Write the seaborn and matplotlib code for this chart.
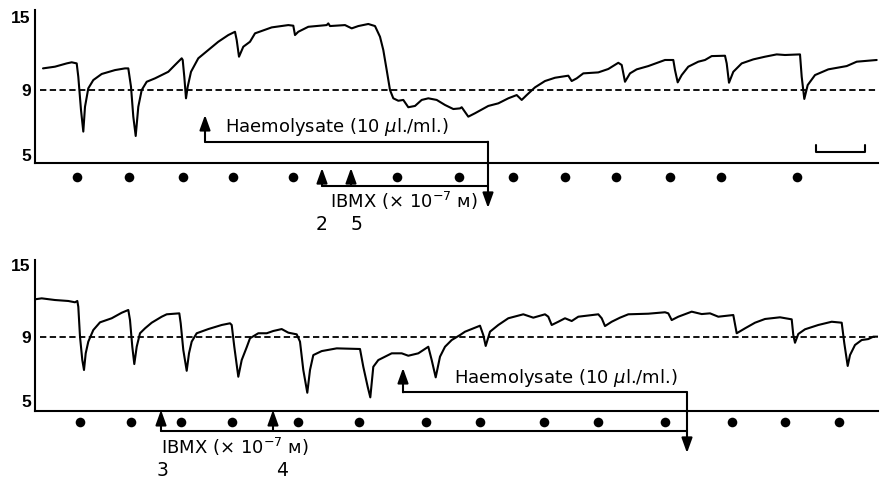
import numpy as np
import pandas as pd
import matplotlib
matplotlib.use("Agg")
import matplotlib.pyplot as plt
import matplotlib.transforms as mtransforms
import seaborn as sns

# ---------------- data (time in chart units, tension on y) ----------------
top_t = [43, 55, 66.7, 71.7, 76.7, 78.3, 81, 83.3, 85, 88.3, 93.3, 101.7, 115, 125, 128.3,
         131, 133.3, 135.7, 138.3, 141.7, 146.7, 155, 168.3, 175, 181.7, 182.7, 184.3, 186,
         187.7, 191, 198.3, 208.3, 218.3, 228.3, 235, 236.7, 239, 243.3, 250, 255, 271.7,
         288.3, 293.3, 295, 298.3, 308.3, 326.7, 328.3, 330, 345, 351.7, 358.3, 368.3, 375,
         380, 383.3, 386.7, 390, 393.3, 398.3, 403.3, 408.3, 415, 421.7, 428.3, 436.7, 445,
         453.3, 460, 461.7, 468.3, 475, 488.3, 498.3, 508.3, 516.7, 521.7, 526.7, 535, 545,
         555, 568.3, 571.7, 576.7, 583.3, 598.3, 608.3, 618.3, 621.7, 625, 630, 636.7, 648.3,
         665, 673.3, 675, 677.7, 681.7, 688.3, 698.3, 705, 711.7, 725, 726.7, 729, 733.3,
         741.7, 753.3, 765, 776.7, 785, 800, 801.7, 804.3, 807.7, 815, 828.3, 846.7, 856.7,
         876.7]
top_v = [10.78, 10.92, 11.19, 11.28, 11.19, 10.09, 7.77, 6.44, 7.97, 9.14, 9.82, 10.32, 10.64,
         10.78, 10.78, 9.27, 7.36, 6.17, 7.97, 9.0, 9.68, 9.96, 10.50, 11.06, 11.61, 11.47,
         10.09, 8.49, 9.27, 10.50, 11.61, 12.29, 12.97, 13.52, 13.79, 13.11, 11.74, 12.56,
         12.97, 13.66, 14.15, 14.34, 14.29, 13.52, 13.79, 14.20, 14.34, 14.48, 14.26, 14.34,
         14.07, 14.26, 14.43, 14.26, 13.38, 12.29, 10.64, 9.0, 8.49, 8.34, 8.39, 7.94, 8.02,
         8.39, 8.49, 8.39, 8.08, 7.83, 7.87, 7.94, 7.36, 7.57, 8.02, 8.18, 8.49, 8.69, 8.39,
         8.69, 9.22, 9.74, 10.01, 10.18, 9.74, 9.96, 10.37, 10.45, 10.73, 11.24, 11.06, 9.68,
         10.37, 10.70, 10.97, 11.47, 11.47, 10.64, 9.63, 10.23, 10.92, 11.33, 11.47, 11.79,
         11.82, 11.19, 9.60, 10.50, 11.19, 11.52, 11.74, 11.93, 11.88, 11.93, 10.09, 8.45,
         9.41, 10.23, 10.70, 10.97, 11.33, 11.47]

bot_t = [35, 41.7, 55, 68.3, 75, 77.3, 78.3, 80, 82.3, 84, 85.7, 88.3, 93.3, 100, 111.7, 121.7,
         128.3, 130, 132.3, 134.3, 136.7, 140, 145, 151.7, 161.7, 166.7, 179.3, 180.7, 183.3,
         186.7, 189, 191.7, 196.7, 208.3, 221.7, 230, 231.7, 234.3, 238.3, 241.7, 246.7, 250,
         258.3, 266.7, 273.3, 281.7, 288.3, 296.7, 300, 303.3, 307.3, 310, 313.3, 321.7, 336.7,
         360, 363.3, 367.7, 370.3, 373.3, 378.3, 391.7, 401.7, 408.3, 418.3, 428.3, 431.7,
         435.7, 440, 445, 451.7, 460, 465, 480, 483.3, 485.7, 490, 498.3, 508.3, 523.3, 533.3,
         545, 548.3, 551.7, 558.3, 565, 571.7, 578.3, 598.3, 601.7, 605, 611.7, 620, 628.3,
         648.3, 665, 668.3, 671.7, 678.3, 691.7, 701.7, 710, 718.3, 733.3, 736.7, 745, 755,
         765, 780, 791.7, 793.3, 795, 798.3, 805, 818.3, 831.7, 841.7, 844.3, 847.7, 850, 855,
         861.7, 868.3, 873.3, 878.3]
bot_v = [12.10, 12.18, 12.04, 11.96, 11.85, 11.96, 11.48, 8.99, 7.53, 6.91, 7.95, 8.68, 9.54,
         10.18, 10.52, 10.98, 11.21, 10.37, 8.36, 7.28, 8.36, 9.27, 9.68, 10.15, 10.65, 10.85,
         10.93, 10.10, 8.16, 6.86, 7.95, 8.68, 9.27, 9.62, 9.96, 10.10, 9.96, 8.36, 6.49, 7.53,
         8.33, 8.89, 9.27, 9.27, 9.46, 9.62, 9.32, 9.18, 8.68, 6.91, 5.49, 6.91, 7.84, 8.09,
         8.26, 8.22, 7.11, 5.86, 5.20, 7.11, 7.53, 7.95, 7.95, 7.80, 7.95, 8.36, 7.53, 6.45,
         7.74, 8.36, 8.78, 9.12, 9.40, 9.90, 9.12, 8.41, 9.40, 9.96, 10.52, 10.85, 10.57,
         10.85, 10.65, 9.96, 10.23, 10.52, 10.29, 10.65, 10.85, 10.52, 9.87, 10.23, 10.57,
         10.85, 10.90, 11.02, 10.93, 10.37, 10.65, 11.07, 10.87, 10.93, 10.65, 10.79, 9.27,
         9.68, 10.15, 10.46, 10.60, 10.43, 9.12, 8.61, 9.21, 9.60, 9.96, 10.23, 10.15, 8.58,
         7.16, 7.84, 8.47, 8.78, 8.84, 8.99, 8.99]

top_stim = [77, 129, 183, 233, 293, 397, 459, 513, 565, 616, 670, 721, 797]
bot_stim = [80, 131, 181, 232, 298, 359, 426, 480, 544, 598, 665, 732, 785, 839]

top_ibmx = [322, 351]
top_ibmx_labels = ["2", "5"]
top_haem_on, top_off = 205, 488
bot_ibmx = [161, 273]
bot_ibmx_labels = ["3", "4"]
bot_haem_on, bot_off = 403, 687

ref_level = 9
y_ticks = [5, 9, 15]
haem_label = "Haemolysate (10 $\\mu$l./ml.)"
ibmx_label = "IBMX (\u00d7 10$^{-7}$ \u043c)"

# ---------------- style ----------------
sns.set_theme(style="white")
plt.rcParams["font.family"] = ["DejaVu Sans"]
plt.rcParams["mathtext.fontset"] = "dejavusans"
plt.rcParams["text.color"] = "black"
plt.rcParams["ytick.color"] = "black"
plt.rcParams["ytick.labelcolor"] = "black"

def fwd(v):
    v = np.asarray(v, dtype=float)
    return np.where(v >= 9, (v - 9) / 6.0, (v - 9) / 4.0 * 0.89)

def inv(u):
    u = np.asarray(u, dtype=float)
    return np.where(u >= 0, 9 + 6.0 * u, 9 + u * 4.0 / 0.89)

fig = plt.figure(figsize=(8.81, 4.80), dpi=100)
ax1 = fig.add_axes([35 / 881, 317 / 480, 843 / 881, 153 / 480])
ax2 = fig.add_axes([35 / 881, 69 / 480, 843 / 881, 151 / 480])

LW = 1.5
TXT = 13

def setup(ax, ylim):
    ax.set_yscale("function", functions=(fwd, inv))
    ax.set_xlim(35, 878)
    ax.set_ylim(*ylim)
    ax.set_yticks(y_ticks)
    ax.set_yticklabels([str(t) for t in y_ticks], fontsize=12.5, fontweight="bold",
                       family="Liberation Sans", color="black")
    ax.set_xticks([])
    ax.tick_params(axis="y", length=0, pad=3)
    for s in ["top", "right"]:
        ax.spines[s].set_visible(False)
    for s in ["left", "bottom"]:
        ax.spines[s].set_color("black")
        ax.spines[s].set_linewidth(1.5)
    ax.set_xlabel("")
    ax.set_ylabel("")
    ax.set_facecolor("white")
    ax.axhline(ref_level, xmin=0.006, xmax=1, color="black", lw=1.3,
               ls=(0, (3.5, 1.9)))

df_top = pd.DataFrame({"t": top_t, "v": top_v})
df_bot = pd.DataFrame({"t": bot_t, "v": bot_v})
sns.lineplot(data=df_top, x="t", y="v", ax=ax1, color="black", lw=LW, estimator=None)
sns.lineplot(data=df_bot, x="t", y="v", ax=ax2, color="black", lw=LW, estimator=None)
setup(ax1, (4.506, 15.58))
setup(ax2, (4.35, 15.375))

arrow_kw = dict(arrowstyle="-|>,head_length=0.75,head_width=0.27", color="black",
                lw=1.5, shrinkA=0, shrinkB=0)

def annotate_panel(ax, stim, stim_y, ibmx, ibmx_labels, ibmx_tip, ibmx_line, haem_on,
                   off, haem_tip, haem_line, down_tip, haem_text_x, haem_text_y,
                   ibmx_text_x, ibmx_text_y, num_y, num_dx):
    tr = mtransforms.blended_transform_factory(ax.transData, ax.transAxes)
    ax.scatter(stim, [stim_y] * len(stim), s=48, color="black", transform=tr,
               clip_on=False, zorder=3, linewidths=0)
    for x in ibmx:
        ax.annotate("", xy=(x, ibmx_tip), xytext=(x, ibmx_line), xycoords=tr,
                    textcoords=tr, arrowprops=arrow_kw, annotation_clip=False)
    ax.plot([ibmx[0], off], [ibmx_line, ibmx_line], color="black", lw=1.5,
            transform=tr, clip_on=False)
    ax.annotate("", xy=(haem_on, haem_tip), xytext=(haem_on, haem_line), xycoords=tr,
                textcoords=tr, arrowprops=arrow_kw, annotation_clip=False)
    ax.plot([haem_on, off], [haem_line, haem_line], color="black", lw=1.5,
            transform=tr, clip_on=False)
    ax.annotate("", xy=(off, down_tip), xytext=(off, haem_line), xycoords=tr,
                textcoords=tr, arrowprops=arrow_kw, annotation_clip=False)
    ax.text(haem_text_x, haem_text_y, haem_label, transform=tr, fontsize=TXT,
            ha="left", va="center", color="black")
    ax.text(ibmx_text_x, ibmx_text_y, ibmx_label, transform=tr, fontsize=TXT,
            ha="left", va="center", color="black")
    for x, lab, dx in zip(ibmx, ibmx_labels, num_dx):
        ax.text(x + dx, num_y, lab, transform=tr, fontsize=TXT + 0.5, ha="center",
                va="center", color="black")
    return tr

annotate_panel(ax1, top_stim, -0.0915, top_ibmx, top_ibmx_labels, -0.033, -0.150,
               top_haem_on, top_off, 0.314, 0.139, -0.294, 225, 0.237, 330, -0.248,
               -0.399, [0, 6])
annotate_panel(ax2, bot_stim, -0.071, bot_ibmx, bot_ibmx_labels, 0.007, -0.132,
               bot_haem_on, bot_off, 0.285, 0.124, -0.278, 454, 0.219, 161, -0.236,
               -0.391, [2, 9])

# calibration bar (top panel)
tr1 = mtransforms.blended_transform_factory(ax1.transData, ax1.transAxes)
ax1.plot([816, 816, 865, 865], [0.118, 0.072, 0.072, 0.118], color="black", lw=1.5,
         transform=tr1, clip_on=False)

fig.savefig("out.png", dpi=100, facecolor="white")
